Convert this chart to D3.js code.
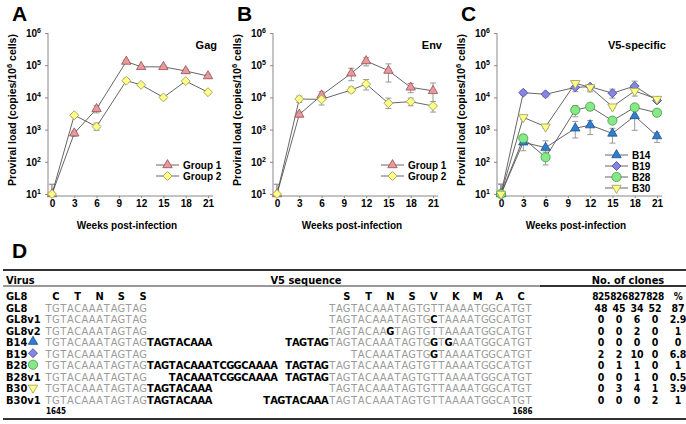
<!DOCTYPE html>
<html>
<head>
<meta charset="utf-8">
<script src="https://cdn.jsdelivr.net/npm/d3@7"></script>
<style>
  body { margin: 0; background: #fff; }
  svg { display: block; font-family: "Liberation Sans", Arial, sans-serif; }
  .tbl { font-family: "DejaVu Sans Condensed", "DejaVu Sans", sans-serif; }
</style>
</head>
<body>
<div id="fig"></div>
<script>
// ---------- data: panels A-C ----------
var weeks = [0, 3, 6, 10, 12, 15, 18, 21];
var weekTicks = [0, 3, 6, 9, 12, 15, 18, 21];
var decades = [1e1, 1e2, 1e3, 1e4, 1e5, 1e6];

var gagGroup1   = [10, 770, 4400, 130000, 89000, 89000, 66000, 46000];
var gagGroup1Lo = [10, 620, 3300, 115000, 80000, 80000, 58000, 40000];
var gagGroup1Hi = [20, 900, 5500, 145000, 97000, 97000, 74000, 52000];
var gagGroup2   = [10, 2800, 1240, 33000, 24500, 10000, 32000, 14500];
var gagGroup2Lo = [10, 2500, 950, 30000, 22000, 9000, 29000, 13000];
var gagGroup2Hi = [20, 3100, 1600, 37000, 27000, 11000, 35000, 16000];

var envGroup1   = [10, 2950, 11700, 56000, 135000, 68000, 20500, 16000];
var envGroup1Lo = [10, 2500, 9500, 33000, 95000, 30000, 14000, 5000];
var envGroup1Hi = [20, 3500, 15000, 80000, 170000, 110000, 27000, 28000];
var envGroup2   = [10, 8900, 8700, 17000, 26000, 6600, 7400, 5400];
var envGroup2Lo = [10, 7000, 5800, 14000, 17000, 4500, 5500, 3500];
var envGroup2Hi = [20, 11000, 12000, 21000, 36000, 9500, 9500, 7500];

var b14   = [10, 405, 275, 1100, 1380, 760, 2650, 630];
var b14Lo = [10, 220, 150, 550, 700, 380, 950, 400];
var b14Hi = [20, 550, 450, 1800, 1900, 1100, 4500, 800];
var b19   = [10, 14000, 12500, 20500, 21500, 13500, 22500, 8000];
var b19Lo = [10, 12000, 10500, 15000, 17000, 9500, 15000, 7000];
var b19Hi = [20, 16000, 14500, 27000, 25000, 18000, 32000, 9500];
var b28   = [10, 535, 138, 4060, 5150, 1900, 4900, 3340];
var b28Lo = [10, 380, 80, 2500, 4000, 1600, 4000, 3000];
var b28Hi = [20, 700, 200, 5500, 6000, 2200, 5500, 3700];
var b30   = [10, 2400, 1230, 27500, 20500, 5150, 15800, 8900];
var b30Lo = [10, 2100, 1100, 22000, 15000, 4600, 11000, 7800];
var b30Hi = [20, 2700, 1400, 32000, 24000, 5700, 20000, 10000];

// ---------- data: panel D ----------
var virusNames = ["GL8", "GL8v1", "GL8v2", "B14", "B19", "B28", "B28v1", "B30", "B30v1"];
var seqLeftRef = "TGTACAAATAGTAG";
var seqRightRef = "TAGTACAAATAGTGTTAAAATGGCATGT";
var leftInserts = ["", "", "", "TAGTACAAA", "", "TAGTACAAATCGGCAAAA", "TACAAATCGGCAAAA", "TAGTACAAA", "TAGTACAAA"];
var leftInsertCol = [14, 14, 14, 14, 14, 14, 17, 14, 14];
var rightInserts = ["", "", "", "TAGTAG", "", "TAGTAG", "TAGTAG", "", "TAGTACAAA"];
var rightSeqs = [
  "TAGTACAAATAGTGTTAAAATGGCATGT",
  "TAGTACAAATAGTGCTAAAATGGCATGT",
  "TAGTACAAGTAGTGTTAAAATGGCATGT",
  "TAGTACAAATAGTGGTGAAATGGCATGT",
  "TACAAATAGTGGTAAAATGGCATGT",
  "TAGTACAAATAGTGTTAAAATGGCATGT",
  "TAGTACAAATAGTGTTAAAATGGCATGT",
  "TAGTACAAATAGTGTTAAAATGGCATGT",
  "TAGTACAAATAGTGTTAAAATGGCATGT"
];
var aaLeft = ["C", "T", "N", "S", "S"];
var aaRight = ["S", "T", "N", "S", "V", "K", "M", "A", "C"];
var cloneHeaders = ["825", "826", "827", "828", "%"];
var clones825 = [48, 0, 0, 0, 2, 0, 0, 0, 0];
var clones826 = [45, 0, 0, 0, 2, 1, 0, 3, 0];
var clones827 = [34, 6, 2, 0, 10, 1, 1, 4, 0];
var clones828 = [52, 0, 0, 0, 0, 0, 0, 1, 2];
var clonesPct = ["87", "2.9", "1", "0", "6.8", "1", "0.5", "3.9", "1"];

// ---------- styles ----------
var styles = {
  group1: {shape: "tri",  fill: "#e59a9e", stroke: "#9c4b50"},
  group2: {shape: "dia",  fill: "#ffff88", stroke: "#9a9a55"},
  B14:    {shape: "tri",  fill: "#2f7fd0", stroke: "#1d4f86"},
  B19:    {shape: "dia",  fill: "#8686e2", stroke: "#4a4a9a"},
  B28:    {shape: "circ", fill: "#86e886", stroke: "#3f9a3f"},
  B30:    {shape: "down", fill: "#ffff88", stroke: "#9a9a55"}
};

var svgWidth = 686, svgHeight = 424;
var svg = d3.select("#fig").append("svg")
  .attr("width", svgWidth)
  .attr("height", svgHeight);

function symbolPath(shape) {
  if (shape === "tri" || shape === "down") return d3.symbol(d3.symbolTriangle, 38)();
  if (shape === "dia") return d3.symbol(d3.symbolSquare, 40)();
  return d3.symbol(d3.symbolCircle, 66)();
}
function symbolRot(shape) {
  if (shape === "down") return " rotate(180)";
  if (shape === "dia") return " rotate(45)";
  return "";
}
function drawMarker(g, st, cx, cy) {
  g.append("path")
    .attr("d", symbolPath(st.shape))
    .attr("transform", `translate(${cx},${cy})` + symbolRot(st.shape))
    .attr("fill", st.fill)
    .attr("stroke", st.stroke)
    .attr("stroke-width", 0.8);
}

var plotW = 156;
var y = d3.scaleLog().domain([10, 1e6]).range([194, 33]);

function drawPanel(p) {
  var g = svg.append("g");
  var x = d3.scaleLinear().domain([0, 21]).range([p.left, p.left + plotW]);

  // y axis
  var yAx = g.append("g")
    .attr("transform", `translate(${p.left - 4},0)`)
    .call(d3.axisLeft(y).tickValues(decades).tickFormat("").tickSize(3).tickSizeOuter(0));
  yAx.select(".domain").remove();
  yAx.selectAll("line").attr("stroke", "#888");
  g.append("line")
    .attr("x1", p.left - 4).attr("x2", p.left - 4)
    .attr("y1", y(1e6)).attr("y2", 196)
    .attr("stroke", "#888");
  var yl = g.selectAll(".ylab").data(decades).enter().append("text")
    .attr("x", p.left - 11)
    .attr("y", d => y(d) + 4)
    .attr("text-anchor", "end")
    .attr("font-size", 10).attr("font-weight", "bold");
  yl.append("tspan").text("10");
  yl.append("tspan").attr("font-size", 7).attr("dy", -4).text(d => Math.round(Math.log10(d)));

  // x axis
  var xAx = g.append("g")
    .attr("transform", "translate(0,196)")
    .call(d3.axisBottom(x).tickValues(weekTicks).tickSize(2).tickPadding(2).tickSizeOuter(0));
  xAx.select(".domain").remove();
  xAx.selectAll("line").attr("stroke", "#888");
  xAx.selectAll("text").attr("font-size", 10).attr("font-weight", "bold")
    .attr("font-family", "Liberation Sans, Arial, sans-serif").attr("fill", "#000");
  g.append("line")
    .attr("x1", p.left - 4).attr("x2", p.left + plotW + 5)
    .attr("y1", 196).attr("y2", 196)
    .attr("stroke", "#888");

  // titles
  g.append("text")
    .attr("x", (p.left + p.left + plotW) / 2 - 3)
    .attr("y", 229)
    .attr("text-anchor", "middle")
    .attr("font-size", 10).attr("font-weight", "bold")
    .text("Weeks post-infection");
  var yt = g.append("text")
    .attr("transform", `translate(${p.left - 36},${110}) rotate(-90)`)
    .attr("text-anchor", "middle")
    .attr("font-size", 10.5).attr("font-weight", "bold");
  yt.append("tspan").text("Proviral load (copies/10");
  yt.append("tspan").attr("font-size", 7.5).attr("dy", -4).text("6");
  yt.append("tspan").attr("dy", 4).text(" cells)");

  g.append("text")
    .attr("x", p.left - 40).attr("y", 21)
    .attr("font-size", 21).attr("font-weight", "bold")
    .text(p.letter);
  g.append("text")
    .attr("x", p.left + 165).attr("y", 49)
    .attr("text-anchor", "end")
    .attr("font-size", 11).attr("font-weight", "bold")
    .text(p.title);

  // series: error bars, then lines, then markers
  p.series.forEach(function(s) {
    var eb = g.append("g");
    weeks.forEach(function(w, i) {
      var cx = x(w);
      eb.append("line").attr("x1", cx).attr("x2", cx)
        .attr("y1", y(s.lo[i])).attr("y2", y(s.hi[i]))
        .attr("stroke", "#999").attr("stroke-width", 1);
      [s.lo[i], s.hi[i]].forEach(function(v) {
        eb.append("line").attr("x1", cx - 3).attr("x2", cx + 3)
          .attr("y1", y(v)).attr("y2", y(v))
          .attr("stroke", "#999").attr("stroke-width", 1);
      });
    });
  });
  p.series.forEach(function(s) {
    g.append("path")
      .datum(s.values)
      .attr("fill", "none")
      .attr("stroke", "#555")
      .attr("stroke-width", 0.9)
      .attr("d", d3.line().x((d, i) => x(weeks[i])).y(d => y(d)));
  });
  p.series.forEach(function(s) {
    var st = styles[s.style];
    s.values.forEach(function(v, i) { drawMarker(g, st, x(weeks[i]), y(v)); });
  });

  // legend
  p.series.forEach(function(s, i) {
    var st = styles[s.style];
    var ly = p.legendY + i * 11;
    g.append("line")
      .attr("x1", p.left + 104).attr("x2", p.left + 127)
      .attr("y1", ly).attr("y2", ly)
      .attr("stroke", "#555").attr("stroke-width", 0.9);
    drawMarker(g, st, p.left + 115.5, ly);
    g.append("text")
      .attr("x", p.left + 131).attr("y", ly + 3.5)
      .attr("font-size", 10).attr("font-weight", "bold")
      .text(s.name);
  });
}

drawPanel({letter: "A", left: 52, title: "Gag", legendY: 165, series: [
  {name: "Group 1", style: "group1", values: gagGroup1, lo: gagGroup1Lo, hi: gagGroup1Hi},
  {name: "Group 2", style: "group2", values: gagGroup2, lo: gagGroup2Lo, hi: gagGroup2Hi}
]});
drawPanel({letter: "B", left: 277, title: "Env", legendY: 165, series: [
  {name: "Group 1", style: "group1", values: envGroup1, lo: envGroup1Lo, hi: envGroup1Hi},
  {name: "Group 2", style: "group2", values: envGroup2, lo: envGroup2Lo, hi: envGroup2Hi}
]});
drawPanel({letter: "C", left: 501, title: "V5-specific", legendY: 155, series: [
  {name: "B14", style: "B14", values: b14, lo: b14Lo, hi: b14Hi},
  {name: "B19", style: "B19", values: b19, lo: b19Lo, hi: b19Hi},
  {name: "B28", style: "B28", values: b28, lo: b28Lo, hi: b28Hi},
  {name: "B30", style: "B30", values: b30, lo: b30Lo, hi: b30Hi}
]});

// ---------- panel D: sequence table ----------
var tg = svg.append("g").attr("class", "tbl");
var seqX0 = 45, pitch = 7.27, rightCol = 39;
var endCol = rightCol + seqRightRef.length;
var colX = c => seqX0 + (c + 0.5) * pitch;
var rowY = d3.scaleLinear().domain([0, 1]).range([307.5, 319.05]);
var rowMarkers = {B14: "B14", B19: "B19", B28: "B28", B30: "B30"};

svg.append("text").attr("x", 12).attr("y", 258)
  .attr("font-size", 21).attr("font-weight", "bold").text("D");

tg.append("line").attr("x1", 3).attr("x2", 686).attr("y1", 270).attr("y2", 270)
  .attr("stroke", "#333").attr("stroke-width", 2);
tg.append("line").attr("x1", 3).attr("x2", 686).attr("y1", 286).attr("y2", 286)
  .attr("stroke", "#333").attr("stroke-width", 1);
tg.append("line").attr("x1", 540).attr("x2", 686).attr("y1", 286).attr("y2", 286)
  .attr("stroke", "#333").attr("stroke-width", 2);
tg.append("line").attr("x1", 3).attr("x2", 686).attr("y1", 419).attr("y2", 419)
  .attr("stroke", "#333").attr("stroke-width", 2);

tg.append("text").attr("x", 6).attr("y", 284).attr("font-size", 11).attr("font-weight", "bold").text("Virus");
tg.append("text").attr("x", 306).attr("y", 284).attr("text-anchor", "middle")
  .attr("font-size", 11).attr("font-weight", "bold").text("V5 sequence");
tg.append("text").attr("x", 628).attr("y", 284).attr("text-anchor", "middle")
  .attr("font-size", 11).attr("font-weight", "bold").text("No. of clones");

// amino-acid header row
var aaY = 296 + 4;
tg.append("text").attr("x", 6).attr("y", aaY).attr("font-size", 11).attr("font-weight", "bold").text("GL8");
aaLeft.forEach(function(a, k) {
  tg.append("text").attr("x", colX(1 + 3 * k)).attr("y", aaY).attr("text-anchor", "middle")
    .attr("font-size", 11).attr("font-weight", "bold").text(a);
});
aaRight.forEach(function(a, k) {
  tg.append("text").attr("x", colX(rightCol + 2 + 3 * k)).attr("y", aaY).attr("text-anchor", "middle")
    .attr("font-size", 11).attr("font-weight", "bold").text(a);
});
var cloneX = [601, 619, 637, 655, 678];
cloneHeaders.forEach(function(h, k) {
  tg.append("text").attr("x", cloneX[k]).attr("y", aaY).attr("text-anchor", "middle")
    .attr("font-size", 10).attr("letter-spacing", -0.4).attr("font-weight", "bold").text(h);
});

// sequence rows
virusNames.forEach(function(name, i) {
  var cy = rowY(i);
  var base = cy + 4;
  tg.append("text").attr("x", 6).attr("y", base).attr("font-size", 11).attr("font-weight", "bold").text(name);
  if (rowMarkers[name]) drawMarker(tg, styles[rowMarkers[name]], 33, cy - 0.5);

  var chars = [];
  seqLeftRef.split("").forEach((c, k) => chars.push({col: k, ch: c, bold: false}));
  leftInserts[i].split("").forEach((c, k) => chars.push({col: leftInsertCol[i] + k, ch: c, bold: true}));
  var ri = rightInserts[i];
  ri.split("").forEach((c, k) => chars.push({col: rightCol - ri.length + k, ch: c, bold: true}));
  var rs = rightSeqs[i];
  rs.split("").forEach(function(c, k) {
    var col = endCol - rs.length + k;
    chars.push({col: col, ch: c, bold: c !== seqRightRef[col - rightCol]});
  });

  tg.selectAll(".r" + i).data(chars).enter().append("text")
    .attr("x", d => colX(d.col))
    .attr("y", base)
    .attr("text-anchor", "middle")
    .attr("font-size", 11)
    .attr("font-weight", d => d.bold ? "bold" : "normal")
    .attr("fill", d => d.bold ? "#000" : "#9a9a9a")
    .text(d => d.ch);

  [clones825[i], clones826[i], clones827[i], clones828[i], clonesPct[i]].forEach(function(v, k) {
    tg.append("text").attr("x", cloneX[k]).attr("y", base).attr("text-anchor", "middle")
      .attr("font-size", 10.5).attr("font-weight", "bold").text(v);
  });
});

tg.append("text").attr("x", colX(1)).attr("y", 414).attr("text-anchor", "middle")
  .attr("font-size", 8).attr("font-weight", "bold").text("1645");
tg.append("text").attr("x", colX(endCol - 1) + 4).attr("y", 414).attr("text-anchor", "end")
  .attr("font-size", 8).attr("font-weight", "bold").text("1686");
</script>
</body>
</html>
